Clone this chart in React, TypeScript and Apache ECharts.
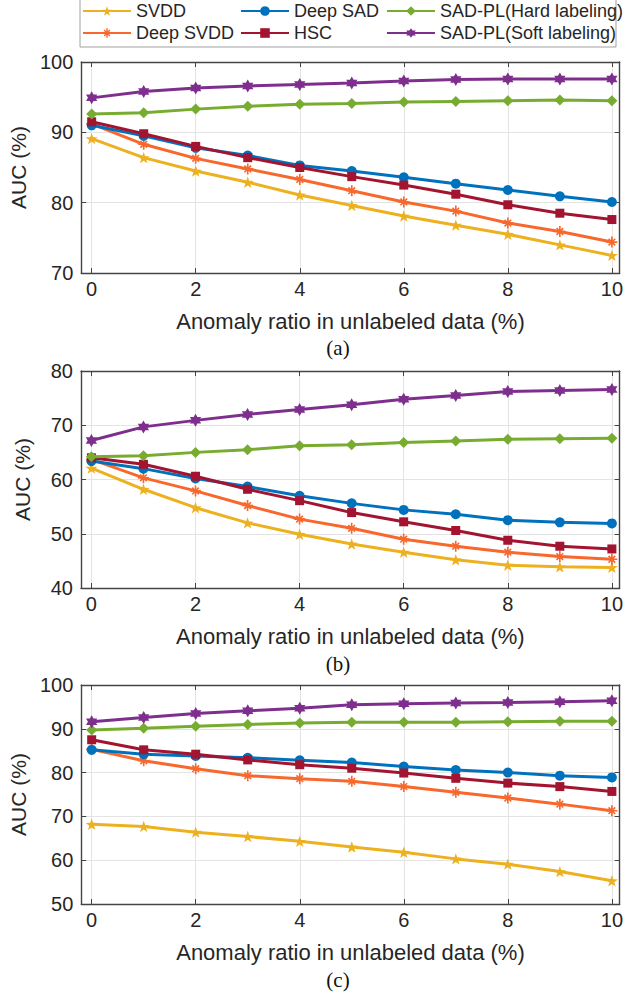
import React, { useEffect, useRef } from "react";
import * as echarts from "echarts";

const ratios = [0, 1, 2, 3, 4, 5, 6, 7, 8, 9, 10];
const xTickValues = [0, 2, 4, 6, 8, 10];
const seriesNames = ["SVDD", "Deep SVDD", "Deep SAD", "HSC", "SAD-PL(Hard labeling)", "SAD-PL(Soft labeling)"];
const panelLabels = ["(a)", "(b)", "(c)"];

// Panel (a)
const svddA = [89.1, 86.4, 84.5, 82.9, 81.1, 79.6, 78.1, 76.8, 75.5, 74.0, 72.5];
const deepSvddA = [91.2, 88.3, 86.3, 84.8, 83.3, 81.7, 80.1, 78.8, 77.1, 75.9, 74.4];
const deepSadA = [91.0, 89.5, 87.8, 86.7, 85.3, 84.5, 83.6, 82.7, 81.8, 80.9, 80.1];
const hscA = [91.5, 89.8, 88.0, 86.4, 85.0, 83.7, 82.5, 81.2, 79.7, 78.5, 77.6];
const hardA = [92.6, 92.8, 93.3, 93.7, 94.0, 94.1, 94.3, 94.4, 94.5, 94.6, 94.5];
const softA = [94.9, 95.8, 96.3, 96.6, 96.8, 97.0, 97.3, 97.5, 97.6, 97.6, 97.6];

// Panel (b)
const svddB = [62.1, 58.2, 54.8, 52.0, 49.9, 48.1, 46.6, 45.2, 44.2, 43.9, 43.8];
const deepSvddB = [63.7, 60.3, 57.9, 55.2, 52.7, 51.0, 49.0, 47.7, 46.6, 45.8, 45.3];
const deepSadB = [63.4, 62.0, 60.2, 58.7, 57.0, 55.6, 54.4, 53.6, 52.5, 52.1, 51.9];
const hscB = [64.0, 62.8, 60.6, 58.2, 56.1, 53.9, 52.2, 50.6, 48.8, 47.7, 47.2];
const hardB = [64.2, 64.4, 65.0, 65.5, 66.2, 66.4, 66.8, 67.1, 67.4, 67.5, 67.6];
const softB = [67.2, 69.7, 70.9, 72.0, 72.9, 73.8, 74.8, 75.5, 76.2, 76.4, 76.6];

// Panel (c)
const svddC = [68.2, 67.7, 66.4, 65.4, 64.3, 63.0, 61.8, 60.3, 59.1, 57.4, 55.3];
const deepSvddC = [85.3, 82.7, 80.9, 79.3, 78.6, 78.0, 76.8, 75.5, 74.2, 72.8, 71.3];
const deepSadC = [85.2, 84.2, 83.8, 83.4, 82.8, 82.3, 81.4, 80.6, 80.0, 79.3, 78.9];
const hscC = [87.5, 85.2, 84.2, 82.9, 81.8, 81.0, 79.9, 78.7, 77.6, 76.8, 75.7];
const hardC = [89.7, 90.1, 90.6, 91.0, 91.3, 91.5, 91.5, 91.5, 91.6, 91.7, 91.7];
const softC = [91.6, 92.6, 93.5, 94.1, 94.7, 95.5, 95.7, 95.9, 96.0, 96.2, 96.4];

const yRanges = [
  [70, 100],
  [40, 80],
  [50, 100],
];

const panels = [
  [svddA, deepSvddA, deepSadA, hscA, hardA, softA],
  [svddB, deepSvddB, deepSadB, hscB, hardB, softB],
  [svddC, deepSvddC, deepSadC, hscC, hardC, softC],
];

const colors = ["#EDB120", "#F8682C", "#0072BD", "#A2142F", "#77AC30", "#7E2F8E"];

const STAR5 =
  "path://M0,-10 L2.35,-3.24 L9.51,-3.09 L3.8,1.24 L5.88,8.09 L0,4 L-5.88,8.09 L-3.8,1.24 L-9.51,-3.09 L-2.35,-3.24 Z";
const ASTERISK =
  "path://M-1.5,-10 L1.5,-10 L1.5,10 L-1.5,10 Z M-10,-1.5 L10,-1.5 L10,1.5 L-10,1.5 Z M-7.07,-5 L-5,-7.07 L7.07,5 L5,7.07 Z M5,-7.07 L7.07,-5 L-5,7.07 L-7.07,5 Z";
const HEXAGRAM =
  "path://M0,-10 L2.885,-5 L8.66,-5 L5.77,0 L8.66,5 L2.885,5 L0,10 L-2.885,5 L-8.66,5 L-5.77,0 L-8.66,-5 L-2.885,-5 Z";
const symbols = [STAR5, ASTERISK, "circle", "rect", "diamond", HEXAGRAM];
const symbolSizes = [12, 11, 10, 9, 11, 13];

const FONT = "Liberation Sans, Arial, sans-serif";
const TEXT = "#262626";
const AXIS = "#444444";

export default function App() {
  const ref = useRef<HTMLDivElement>(null);

  useEffect(() => {
    if (!ref.current) return;
    const chart = echarts.init(ref.current, undefined, { renderer: "svg" });

    const gridTops = [62, 371, 685];
    const gridHeights = [211, 217, 219];
    const labelYs = [348, 664, 980];

    const grids = gridTops.map((t, i) => ({
      left: 81,
      right: 5,
      top: t,
      height: gridHeights[i],
      containLabel: false,
    }));

    const xAxes: any[] = [];
    const yAxes: any[] = [];
    for (let i = 0; i < 3; i++) {
      xAxes.push({
        type: "value",
        gridIndex: i,
        position: "bottom",
        min: -0.2,
        max: 10.15,
        name: "Anomaly ratio in unlabeled data (%)",
        nameLocation: "middle",
        nameGap: 37,
        nameTextStyle: { fontSize: 22, fontFamily: FONT, color: TEXT },
        axisLine: { show: true, onZero: false, lineStyle: { color: AXIS, width: 1.4 } },
        axisTick: { show: true, inside: true, length: 5, customValues: xTickValues, lineStyle: { color: AXIS } },
        axisLabel: { show: true, customValues: xTickValues, margin: 6, fontSize: 20, fontFamily: FONT, color: TEXT },
        splitLine: { show: true, lineStyle: { color: "#e3e3e3", width: 1 } },
      });
      xAxes.push({
        type: "value",
        gridIndex: i,
        position: "top",
        min: -0.2,
        max: 10.15,
        axisLine: { show: true, onZero: false, lineStyle: { color: AXIS, width: 1.4 } },
        axisTick: { show: true, inside: true, length: 5, customValues: xTickValues, lineStyle: { color: AXIS } },
        axisLabel: { show: false },
        splitLine: { show: false },
      });
      const [ymin, ymax] = yRanges[i];
      yAxes.push({
        type: "value",
        gridIndex: i,
        position: "left",
        min: ymin,
        max: ymax,
        interval: 10,
        name: "AUC (%)",
        nameLocation: "middle",
        nameGap: 48,
        nameTextStyle: { fontSize: 21, fontFamily: FONT, color: TEXT },
        axisLine: { show: true, onZero: false, lineStyle: { color: AXIS, width: 1.4 } },
        axisTick: { show: true, inside: true, length: 5, lineStyle: { color: AXIS } },
        axisLabel: { show: true, margin: 8, fontSize: 20, fontFamily: FONT, color: TEXT },
        splitLine: { show: true, lineStyle: { color: "#e3e3e3", width: 1 } },
      });
      yAxes.push({
        type: "value",
        gridIndex: i,
        position: "right",
        min: ymin,
        max: ymax,
        interval: 10,
        axisLine: { show: true, onZero: false, lineStyle: { color: AXIS, width: 1.4 } },
        axisTick: { show: true, inside: true, length: 5, lineStyle: { color: AXIS } },
        axisLabel: { show: false },
        splitLine: { show: false },
      });
    }

    const series: any[] = [];
    panels.forEach((panel, p) => {
      panel.forEach((vals, s) => {
        series.push({
          name: seriesNames[s],
          type: "line",
          xAxisIndex: 2 * p,
          yAxisIndex: 2 * p,
          data: ratios.map((x, k) => [x, vals[k]]),
          symbol: symbols[s],
          symbolSize: symbolSizes[s],
          symbolKeepAspect: true,
          showSymbol: true,
          lineStyle: { color: colors[s], width: 3 },
          itemStyle: { color: colors[s] },
          z: 2 + s,
        });
      });
    });

    const legendBase = {
      orient: "vertical",
      top: 2,
      itemWidth: 48,
      itemHeight: 12,
      itemGap: 4,
      padding: 0,
      selectedMode: false,
      textStyle: { fontSize: 18, fontFamily: FONT, color: TEXT },
    };

    const option: any = {
      animation: false,
      backgroundColor: "#ffffff",
      grid: grids,
      xAxis: xAxes,
      yAxis: yAxes,
      series,
      legend: [
        { ...legendBase, left: 82, data: [seriesNames[0], seriesNames[1]] },
        { ...legendBase, left: 240, data: [seriesNames[2], seriesNames[3]] },
        { ...legendBase, left: 386, data: [seriesNames[4], seriesNames[5]] },
      ],
      graphic: [
        {
          type: "rect",
          z: 0,
          shape: { x: 80, y: -20, width: 536, height: 67 },
          style: { fill: "none", stroke: "#a0a0a0", lineWidth: 1 },
        },
        ...panelLabels.map((t, i) => ({
          type: "text",
          x: 338,
          y: labelYs[i],
          style: {
            text: t,
            align: "center",
            verticalAlign: "middle",
            font: "21px 'Liberation Serif', 'Times New Roman', serif",
            fill: "#111",
          },
        })),
      ],
    };

    chart.setOption(option);
    return () => chart.dispose();
  }, []);

  return (
    <div
      ref={ref}
      style={{ position: "fixed", left: 0, top: 0, width: 626, height: 994, background: "#fff" }}
    />
  );
}
